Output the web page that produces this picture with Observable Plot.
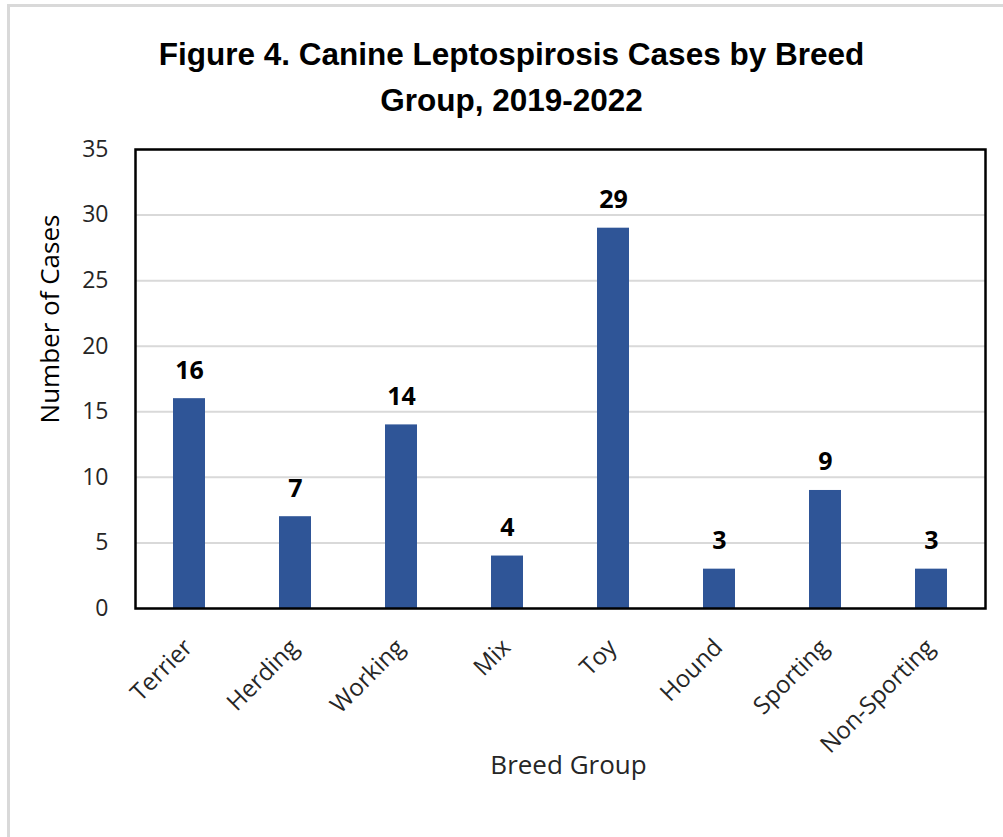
<!DOCTYPE html>
<html>
<head>
<meta charset="utf-8">
<script src="https://cdn.jsdelivr.net/npm/d3@7"></script>
<script src="https://cdn.jsdelivr.net/npm/@observablehq/plot@0.6"></script>
<style>
  html, body { margin: 0; padding: 0; background: #fff; }
  #wrap { position: relative; width: 1003px; height: 837px; overflow: hidden; background: #fff; }
  #border { position: absolute; left: 7px; top: 4px; right: -10px; bottom: -10px;
            border-left: 3px solid #d9d9d9; border-top: 3px solid #d9d9d9; }
  #title { position: absolute; left: 0; top: 0; width: 1003px; height: 130px; box-sizing: border-box;
           padding-top: 31px; padding-left: 20px;
           text-align: center; font-family: "Liberation Sans", Arial, sans-serif;
           font-weight: bold; font-size: 31.5px; line-height: 46px; color: #000; }
  #chart { position: absolute; left: 0; top: 130px; }
</style>
</head>
<body>
<div id="wrap">
  <div id="border"></div>
  <div id="title">Figure 4. Canine Leptospirosis Cases by Breed<br>Group, 2019-2022</div>
  <div id="chart"></div>
</div>
<script>
const breedGroups = ["Terrier", "Herding", "Working", "Mix", "Toy", "Hound", "Sporting", "Non-Sporting"];
const caseCounts = [16, 7, 14, 4, 29, 3, 9, 3];
const yTicks = [0, 5, 10, 15, 20, 25, 30, 35];

const data = breedGroups.map((g, i) => ({group: g, cases: caseCounts[i]}));
const font = "'Open Sans', 'DejaVu Sans', sans-serif";

const chart = Plot.plot({
  width: 1003,
  height: 707,
  marginTop: 19,
  marginBottom: 229,
  marginLeft: 135,
  marginRight: 18,
  style: { fontFamily: font, fontSize: "22px", color: "#262626", background: "transparent" },
  x: { domain: breedGroups, paddingInner: 0.7, paddingOuter: 0.35, align: 0.5 },
  y: { domain: [0, 35] },
  marks: [
    Plot.gridY(yTicks, { stroke: "#d9d9d9", strokeOpacity: 1, strokeWidth: 2 }),
    Plot.barY(data, { x: "group", y: "cases", fill: "#2f5597" }),
    Plot.text(data, { x: "group", y: "cases", text: d => String(d.cases), dy: -20,
      lineAnchor: "bottom", fontWeight: "bold", fontSize: 25, fill: "#000" }),
    Plot.frame({ stroke: "#000", strokeWidth: 2.5 }),
    Plot.axisY(yTicks, { tickSize: 0, tickPadding: 27, fontSize: 23, label: null }),
    Plot.text(["Number of Cases"], { frameAnchor: "left", textAnchor: "middle", lineAnchor: "middle",
      dx: -85, dy: -60, rotate: -90, fontSize: 26, fill: "#000" }),
    Plot.axisX({ tickSize: 0, tickRotate: -45, tickPadding: 35, dx: -1, fontSize: 24, label: null }),
    Plot.text(["Breed Group"], { frameAnchor: "bottom", textAnchor: "middle", dx: 8, dy: 165,
      fontSize: 26, fill: "#262626" })
  ]
});
document.getElementById("chart").appendChild(chart);
</script>
</body>
</html>
